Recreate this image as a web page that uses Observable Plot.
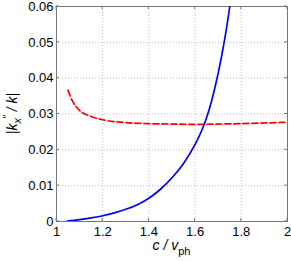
<!DOCTYPE html>
<html><head><meta charset="utf-8">
<script src="https://cdn.jsdelivr.net/npm/d3@7"></script>
<script src="https://cdn.jsdelivr.net/npm/@observablehq/plot@0.6"></script>
<style>body{margin:0;background:#fff}</style>
</head><body><div id="chart"></div>
<script>
// c / v_ph values and |k_x''/k| for two curves
const blueX = [1.046, 1.1, 1.15, 1.2, 1.25, 1.3, 1.35, 1.4, 1.45, 1.5, 1.55, 1.6, 1.63, 1.65, 1.67, 1.7, 1.73, 1.75, 1.76];
const blueY = [0.0001, 0.0005, 0.0010, 0.0016, 0.0024, 0.0034, 0.0047, 0.0065, 0.0090, 0.0122, 0.0162, 0.0215, 0.0256, 0.0290, 0.0333, 0.0414, 0.0516, 0.0600, 0.0650];
const redX = [1.05, 1.07, 1.1, 1.15, 1.2, 1.3, 1.4, 1.5, 1.6, 1.7, 1.8, 1.9, 2.0];
const redY = [0.0366, 0.0335, 0.031, 0.0293, 0.0284, 0.0276, 0.0273, 0.0272, 0.0271, 0.0272, 0.0273, 0.0275, 0.0277];
const xTicks = [1, 1.2, 1.4, 1.6, 1.8, 2];
const yTicks = [0, 0.01, 0.02, 0.03, 0.04, 0.05, 0.06];

const blue = blueX.map((x, i) => ({x, y: blueY[i]}));
const red = redX.map((x, i) => ({x, y: redY[i]}));

const fmtY = d => d === 0 ? "0" : d.toFixed(2);
const fmtX = d => String(d);

const plot = Plot.plot({
  width: 291, height: 261,
  marginLeft: 56, marginRight: 4, marginTop: 6, marginBottom: 40,
  style: {fontFamily: "'Liberation Sans', Arial, sans-serif", fontSize: "13px", color: "#000", background: "#fff"},
  x: {domain: [1, 2]},
  y: {domain: [0, 0.06]},
  marks: [
    Plot.gridX(xTicks, {stroke: "#bbb", strokeOpacity: 1, strokeDasharray: "1,2"}),
    Plot.gridY(yTicks, {stroke: "#bbb", strokeOpacity: 1, strokeDasharray: "1,2"}),
    Plot.axisX(xTicks, {tickSize: 0, tickPadding: 5, tickFormat: fmtX, label: null, fontSize: 13}),
    Plot.axisY(yTicks, {tickSize: 0, tickPadding: 3, tickFormat: fmtY, label: null, fontSize: 13}),
    Plot.frame({stroke: "#777"}),
    Plot.line(red, {x: "x", y: "y", stroke: "#ff0000", strokeWidth: 1.7, strokeDasharray: "6,3", curve: "monotone-x", clip: true}),
    Plot.line(blue, {x: "x", y: "y", stroke: "#0000ff", strokeWidth: 1.7, curve: "monotone-x", clip: true})
  ]
});
document.getElementById("chart").append(plot);

// inward ticks and axis labels
const sx = plot.scale("x"), sy = plot.scale("y");
const svg = d3.select(plot);
const [x0, x1] = sx.range, [y0, y1] = sy.range;
const g = svg.append("g").attr("stroke", "#777");
xTicks.forEach(t => {
  g.append("line").attr("x1", sx.apply(t)).attr("x2", sx.apply(t)).attr("y1", y0).attr("y2", y0 - 3);
  g.append("line").attr("x1", sx.apply(t)).attr("x2", sx.apply(t)).attr("y1", y1).attr("y2", y1 + 3);
});
yTicks.forEach(t => {
  g.append("line").attr("y1", sy.apply(t)).attr("y2", sy.apply(t)).attr("x1", x0).attr("x2", x0 + 3);
  g.append("line").attr("y1", sy.apply(t)).attr("y2", sy.apply(t)).attr("x1", x1).attr("x2", x1 - 3);
});

const font = "'Liberation Sans', Arial, sans-serif";
const xl = svg.append("text").attr("x", (x0 + x1) / 2).attr("y", 250)
  .attr("text-anchor", "middle").attr("font-family", font).attr("font-size", 14);
xl.append("tspan").attr("font-style", "italic").text("c / v");
xl.append("tspan").attr("font-size", 11).attr("dy", 5).text("ph");

const yl = svg.append("text").attr("transform", `translate(17,${(y0 + y1) / 2}) rotate(-90)`)
  .attr("text-anchor", "middle").attr("font-family", font).attr("font-size", 14).attr("font-style", "italic");
yl.append("tspan").text("|k");
yl.append("tspan").attr("font-size", 11).attr("dy", 4).text("x");
yl.append("tspan").attr("font-size", 11).attr("dy", -10).attr("dx", -1).text("\u2033");
yl.append("tspan").attr("dy", 6).text(" / k|");
</script></body></html>
